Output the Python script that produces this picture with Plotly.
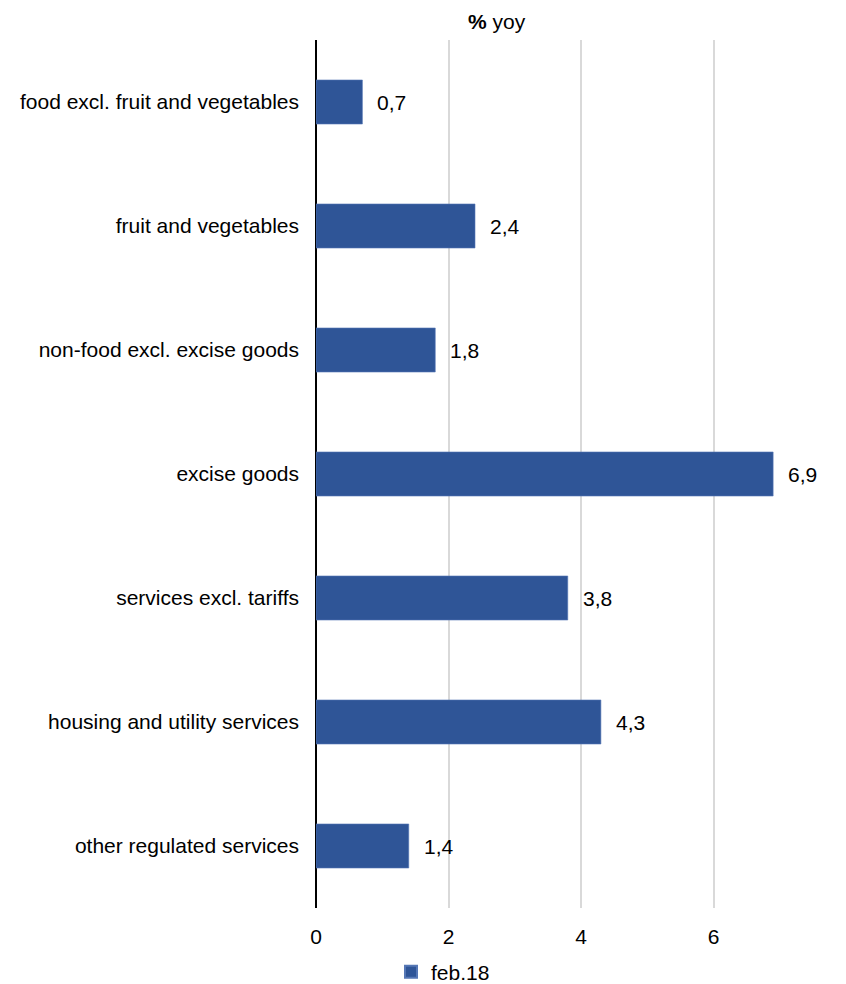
import plotly.graph_objects as go

categories = [
    "food excl. fruit and vegetables",
    "fruit and vegetables",
    "non-food excl. excise goods",
    "excise goods",
    "services excl. tariffs",
    "housing and utility services",
    "other regulated services",
]
values = [0.7, 2.4, 1.8, 6.9, 3.8, 4.3, 1.4]
series_name = "feb.18"
x_ticks = [0, 2, 4, 6, 8]

W, H = 846, 984
L, R, T, B = 316, 0, 40, 76
FONT = "Liberation Sans, Arial, sans-serif"
FS = 21
BAR = "#2F5597"

fig = go.Figure()
fig.add_trace(go.Bar(
    y=categories,
    x=values,
    orientation="h",
    name=series_name,
    marker=dict(color=BAR, line=dict(color="#5577b5", width=0.6)),
    width=0.355,
    hoverinfo="skip",
))

# value labels to the right of each bar, with decimal comma
for c, v in zip(categories, values):
    fig.add_annotation(
        x=v, y=c, xref="x", yref="y",
        text=f"{v:.1f}".replace(".", ","),
        showarrow=False, xanchor="left", yanchor="middle", xshift=13,
        font=dict(family=FONT, size=FS, color="#000000"),
    )

# axis caption above the plot
fig.add_annotation(
    x=(497 - L) / (W - L - R), y=1, xref="paper", yref="paper",
    yshift=19, yanchor="middle", xanchor="center",
    text="<b>%</b> yoy", showarrow=False,
    font=dict(family=FONT, size=FS, color="#000000"),
)

fig.update_layout(
    width=W, height=H,
    margin=dict(l=L, r=R, t=T, b=B, pad=0, autoexpand=False),
    paper_bgcolor="white", plot_bgcolor="white",
    font=dict(family=FONT, size=FS, color="#000000"),
    showlegend=True,
    legend=dict(
        orientation="h", x=(443 - L) / (W - L - R), xanchor="center",
        y=-(972 - (H - B)) / (H - T - B), yanchor="middle",
        font=dict(family=FONT, size=FS, color="#000000"),
        itemwidth=30, itemsizing="constant",
        bgcolor="rgba(0,0,0,0)",
    ),
    bargap=0.645,
)
fig.update_xaxes(
    range=[0, 8], tickvals=x_ticks, ticktext=[str(t) for t in x_ticks],
    showgrid=True, gridcolor="#d9d9d9", gridwidth=1.5,
    zeroline=True, zerolinecolor="#000000", zerolinewidth=1.5,
    showline=False, ticks="", ticklabelstandoff=14,
    tickfont=dict(family=FONT, size=FS, color="#000000"),
    fixedrange=True,
)
fig.update_yaxes(
    autorange="reversed", showgrid=False, zeroline=False, showline=False,
    ticks="", ticklabelstandoff=16,
    tickfont=dict(family=FONT, size=FS, color="#000000"),
    fixedrange=True,
)

fig.write_html("out.html", config={"displayModeBar": False})
